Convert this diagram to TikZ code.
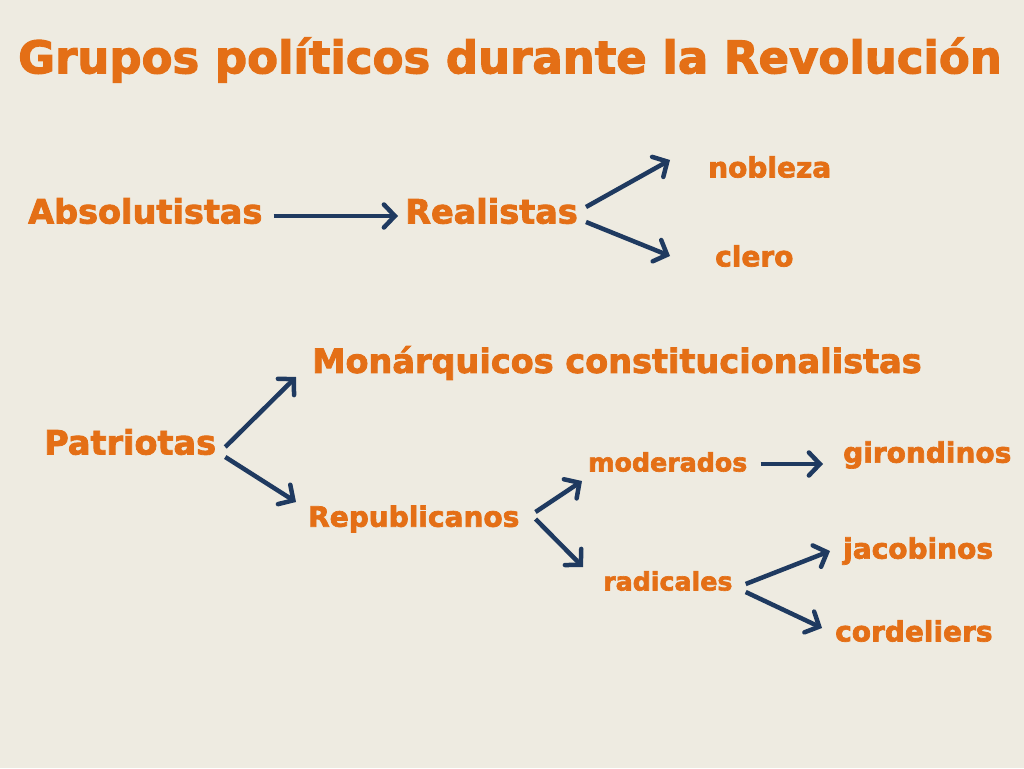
\documentclass[tikz,border=0pt]{standalone}
\usepackage{fontspec}
\setmainfont{DejaVu Sans}[BoldFeatures={FakeBold=2.5}]
\usetikzlibrary{arrows.meta}
\definecolor{bg}{HTML}{EEEBE1}
\definecolor{org}{HTML}{E46F16}
\definecolor{navy}{HTML}{1F3A60}
\tikzset{
  lbl/.style={anchor=west,inner sep=0pt,text=org,font=\bfseries\fontsize{#1}{#1}\selectfont},
  arr/.style={draw=navy,line width=4.5pt,-{Straight Barb[length=11pt,width=23pt,line width=4.5pt,line cap=round]}}
}
\begin{document}
\begin{tikzpicture}[x=1pt,y=-1pt]
\fill[bg] (0,0) rectangle (1024,768);
\useasboundingbox (0,0) rectangle (1024,768);
\node[lbl=45] (title) at (18,60) {Grupos políticos durante la Revolución};
\node[lbl=33.5] (abs) at (28,211) {Absolutistas};
\node[lbl=33.5] (real) at (405,211) {Realistas};
\node[lbl=28] (nob) at (708,167) {nobleza};
\node[lbl=28] (cle) at (715,256) {clero};
\node[lbl=33.5] (mon) at (312,363) {Monárquicos constitucionalistas};
\node[lbl=33.5] (pat) at (44,442) {Patriotas};
\node[lbl=28] (rep) at (308,519) {Republicanos};
\node[lbl=25.3] (mod) at (588,462) {moderados};
\node[lbl=25.3] (rad) at (603,581) {radicales};
\node[lbl=28] (gir) at (843,455) {girondinos};
\node[lbl=28] (jac) at (843,551) {jacobinos};
\node[lbl=28] (cor) at (835,631) {cordeliers};
\draw[arr] ([xshift=11pt,yshift=-5pt]abs.east) -- ([xshift=-7pt,yshift=-5pt]real.west);
\draw[arr] ([xshift=8pt,yshift=4pt]real.east) -- ([xshift=-38pt,yshift=7pt]nob.west);
\draw[arr] ([xshift=8pt,yshift=-11pt]real.east) -- ([xshift=-45pt]cle.west);
\draw[arr] ([xshift=9pt,yshift=-5pt]pat.east) -- ([xshift=-16pt,yshift=-14pt]mon.west);
\draw[arr] ([xshift=9pt,yshift=-15pt]pat.east) -- ([xshift=-12pt,yshift=17pt]rep.west);
\draw[arr] ([xshift=16pt,yshift=7pt]rep.east) -- ([xshift=-6pt,yshift=-19pt]mod.west);
\draw[arr] ([xshift=16pt]rep.east) -- ([xshift=-20pt,yshift=14pt]rad.west);
\draw[arr] ([xshift=13pt,yshift=-2pt]mod.east) -- ([xshift=-20pt,yshift=-9pt]gir.west);
\draw[arr] ([xshift=13pt,yshift=-3pt]rad.east) -- ([xshift=-13pt]jac.west);
\draw[arr] ([xshift=13pt,yshift=-11pt]rad.east) -- ([xshift=-13pt,yshift=3pt]cor.west);
\end{tikzpicture}
\end{document}
